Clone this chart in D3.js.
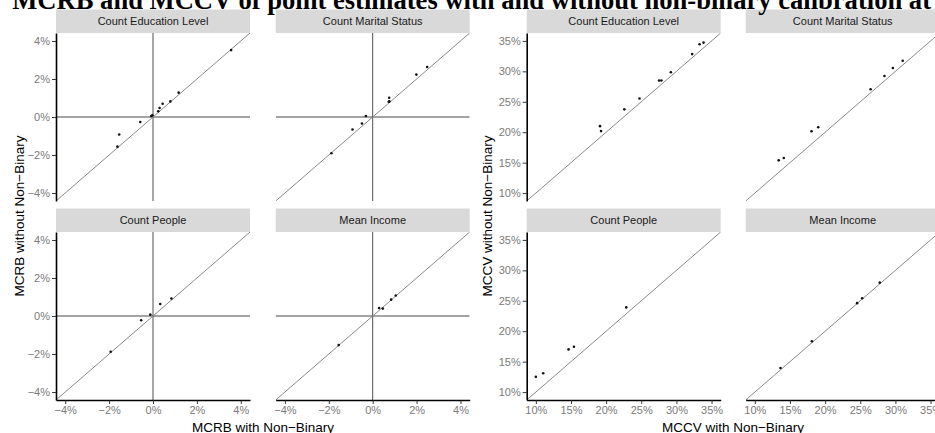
<!DOCTYPE html>
<html>
<head>
<meta charset="utf-8">
<script src="https://cdn.jsdelivr.net/npm/d3@7"></script>
<style>
  html, body { margin: 0; padding: 0; background: #fff; overflow: hidden; }
  svg { display: block; }
</style>
</head>
<body>
<svg id="chart" width="935" height="433"></svg>
<script>
// ---------------- DATA (values in %) ----------------
const facetNames = ["Count Education Level", "Count Marital Status", "Count People", "Mean Income"];

// MCRB: with non-binary (x) vs without non-binary (y)
const mcrbEduWith       = [3.56, 1.17, 0.79, 0.44, 0.30, 0.24, -0.03, -0.08, -0.58, -1.54, -1.62];
const mcrbEduWithout    = [3.52, 1.28, 0.82, 0.70, 0.47, 0.30, 0.09, 0.05, -0.26, -0.92, -1.56];
const mcrbMaritalWith   = [2.48, 1.99, 0.75, 0.73, 0.76, -0.31, -0.49, -0.92, -1.88];
const mcrbMaritalWithout= [2.63, 2.23, 1.01, 0.80, 0.82, 0.05, -0.34, -0.66, -1.91];
const mcrbPeopleWith    = [0.84, 0.33, -0.12, -0.54, -1.93];
const mcrbPeopleWithout = [0.92, 0.63, 0.07, -0.22, -1.88];
const mcrbIncomeWith    = [1.05, 0.84, 0.46, 0.29, -1.55];
const mcrbIncomeWithout = [1.08, 0.86, 0.39, 0.42, -1.53];

// MCCV: with non-binary (x) vs without non-binary (y)
const mccvEduWith       = [33.86, 33.29, 32.24, 29.21, 27.87, 27.53, 24.75, 22.59, 19.28, 19.13];
const mccvEduWithout    = [34.72, 34.46, 32.83, 29.84, 28.49, 28.49, 25.55, 23.76, 20.18, 21.00];
const mccvMaritalWith   = [31.04, 29.64, 28.44, 26.47, 19.02, 18.07, 14.12, 13.40];
const mccvMaritalWithout= [31.73, 30.54, 29.24, 27.06, 20.81, 20.16, 15.76, 15.38];
const mccvPeopleWith    = [22.87, 15.42, 14.65, 11.05, 10.00];
const mccvPeopleWithout = [23.91, 17.44, 17.01, 13.10, 12.50];
const mccvIncomeWith    = [27.77, 25.27, 24.55, 18.11, 13.65];
const mccvIncomeWithout = [27.98, 25.42, 24.61, 18.36, 13.96];

// Tick values
const mcrbTicks = [-4, -2, 0, 2, 4];
const mccvTicks = [10, 15, 20, 25, 30, 35];

// Titles
const chartTitle = "MCRB and MCCV of point estimates with and without non-binary calibration at";
const mcrbXTitle = "MCRB with Non\u2212Binary";
const mcrbYTitle = "MCRB without Non\u2212Binary";
const mccvXTitle = "MCCV with Non\u2212Binary";
const mccvYTitle = "MCCV without Non\u2212Binary";

// ---------------- LAYOUT ----------------
const svg = d3.select("#chart");
const panelW = 194, panelH = 168, stripH = 23.5;
const rowTops = [33, 232];
const font = "'Liberation Sans', Arial, sans-serif";
const fmt = d => (d < 0 ? "\u2212" : "") + Math.abs(d) + "%";

function zip(a, b) { return a.map((v, i) => ({x: v, y: b[i]})); }

function drawPlot(cfg) {
  cfg.facets.forEach((pts, i) => {
    const col = i % 2, row = Math.floor(i / 2);
    const left = cfg.colLefts[col], top = rowTops[row];
    const x = d3.scaleLinear().domain(cfg.domain).range([left, left + panelW]);
    const y = d3.scaleLinear().domain(cfg.domain).range([top + panelH, top]);
    const g = svg.append("g");

    // strip
    g.append("rect").attr("x", left).attr("y", top - stripH)
      .attr("width", panelW).attr("height", stripH).attr("fill", "#d9d9d9");
    g.append("text").attr("x", left + panelW / 2).attr("y", top - stripH / 2)
      .attr("dy", "0.36em").attr("text-anchor", "middle")
      .attr("font-family", font).attr("font-size", 11).attr("fill", "#1a1a1a")
      .text(facetNames[i]);

    const clipId = "clip" + cfg.id + i;
    g.append("clipPath").attr("id", clipId).append("rect")
      .attr("x", left).attr("y", top).attr("width", panelW).attr("height", panelH);
    const pg = g.append("g").attr("clip-path", `url(#${clipId})`);

    if (cfg.refLines) {
      pg.append("line").attr("x1", x(0)).attr("x2", x(0))
        .attr("y1", top).attr("y2", top + panelH)
        .attr("stroke", "#222").attr("stroke-width", 0.8);
      pg.append("line").attr("x1", left).attr("x2", left + panelW)
        .attr("y1", y(0)).attr("y2", y(0))
        .attr("stroke", "#333").attr("stroke-width", 0.9);
    }
    // identity line
    pg.append("line")
      .attr("x1", x(cfg.domain[0])).attr("y1", y(cfg.domain[0]))
      .attr("x2", x(cfg.domain[1])).attr("y2", y(cfg.domain[1]))
      .attr("stroke", "#8a8a8a").attr("stroke-width", 1);

    pg.selectAll("circle").data(pts).join("circle")
      .attr("cx", d => x(d.x)).attr("cy", d => y(d.y))
      .attr("r", 1.3).attr("fill", "#111");

    // axes (outer panels only)
    if (col === 0) {
      const ax = g.append("g").attr("transform", `translate(${left},0)`)
        .call(d3.axisLeft(y).tickValues(cfg.ticks).tickFormat(fmt).tickSize(4).tickSizeOuter(0).tickPadding(2));
      styleAxis(ax);
    }
    if (row === 1) {
      const ax = g.append("g").attr("transform", `translate(0,${top + panelH})`)
        .call(d3.axisBottom(x).tickValues(cfg.ticks).tickFormat(fmt).tickSize(4).tickSizeOuter(0).tickPadding(2));
      styleAxis(ax);
    }
  });

  // axis titles
  svg.append("text").attr("x", cfg.xTitleX).attr("y", 427)
    .attr("dy", "0.36em").attr("text-anchor", "middle")
    .attr("font-family", font).attr("font-size", 13.5).attr("fill", "#000")
    .text(cfg.xTitle);
  svg.append("text")
    .attr("transform", `translate(${cfg.yTitleX},216) rotate(-90)`)
    .attr("dy", "0.36em").attr("text-anchor", "middle")
    .attr("font-family", font).attr("font-size", 13.5).attr("fill", "#000")
    .text(cfg.yTitle);
}

function styleAxis(ax) {
  ax.select(".domain").attr("stroke", "#000").attr("stroke-width", 1.6);
  ax.selectAll(".tick line").attr("stroke", "#222").attr("stroke-width", 0.9);
  ax.selectAll(".tick text").attr("font-family", font).attr("font-size", 11).attr("fill", "#7a7a7a");
}

drawPlot({
  id: "mcrb",
  colLefts: [56, 275.7],
  domain: [-4.42, 4.42],
  ticks: mcrbTicks,
  refLines: true,
  facets: [zip(mcrbEduWith, mcrbEduWithout), zip(mcrbMaritalWith, mcrbMaritalWithout),
           zip(mcrbPeopleWith, mcrbPeopleWithout), zip(mcrbIncomeWith, mcrbIncomeWithout)],
  xTitle: mcrbXTitle, yTitle: mcrbYTitle, xTitleX: 263, yTitleX: 19
});

drawPlot({
  id: "mccv",
  colLefts: [526.7, 745.7],
  domain: [8.7, 36.3],
  ticks: mccvTicks,
  refLines: false,
  facets: [zip(mccvEduWith, mccvEduWithout), zip(mccvMaritalWith, mccvMaritalWithout),
           zip(mccvPeopleWith, mccvPeopleWithout), zip(mccvIncomeWith, mccvIncomeWithout)],
  xTitle: mccvXTitle, yTitle: mccvYTitle, xTitleX: 733, yTitleX: 487.5
});

// title (cut off at top, as in reference)
const title = svg.append("text").attr("x", 931).attr("y", 9)
  .attr("text-anchor", "end")
  .attr("font-family", "'Liberation Serif', 'Times New Roman', serif")
  .attr("font-weight", "bold").attr("font-size", 20).attr("fill", "#000")
  .text(chartTitle);
// size font so that "and ... at" spans roughly x=100..931
const probe = svg.append("text")
  .attr("font-family", "'Liberation Serif', 'Times New Roman', serif")
  .attr("font-weight", "bold").attr("font-size", 20)
  .text(chartTitle.slice(chartTitle.indexOf("and")));
const w = probe.node().getComputedTextLength();
probe.remove();
title.attr("font-size", 20 * 831 / w);
</script>
</body>
</html>
